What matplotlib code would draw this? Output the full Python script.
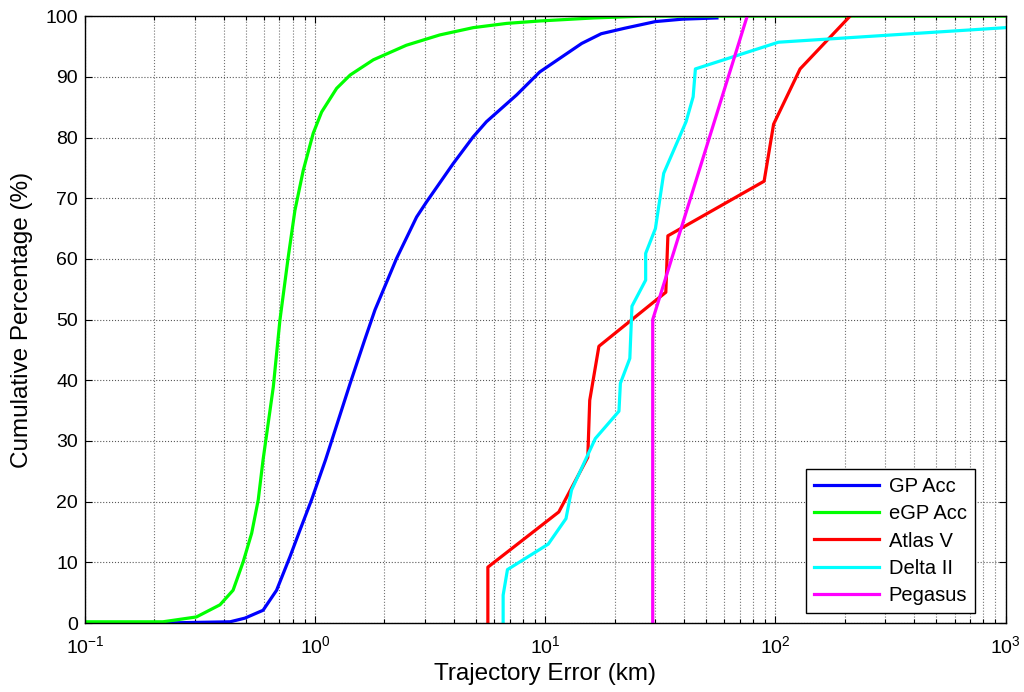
import numpy as np
import matplotlib
matplotlib.use("Agg")
import matplotlib.pyplot as plt
from matplotlib.ticker import LogLocator, NullFormatter

plt.rcParams['font.family'] = ['Liberation Sans', 'DejaVu Sans']
plt.rcParams['mathtext.fontset'] = 'custom'
plt.rcParams['mathtext.rm'] = 'Liberation Sans'
plt.rcParams['mathtext.it'] = 'Liberation Sans:italic'
plt.rcParams['mathtext.bf'] = 'Liberation Sans:bold'

gp_x = [0.1, 0.218, 0.427, 0.495, 0.594, 0.68, 0.777, 0.859, 0.965, 1.11, 1.42, 1.64,
        1.82, 1.98, 2.26, 2.76, 3.05, 3.98, 4.86, 5.55, 7.50, 9.46, 14.4, 17.5, 22.1,
        30.1, 39.4, 55.7]
gp_y = [0.0, 0.0, 0.2, 0.8, 2.1, 5.4, 10.9, 15.3, 20.3, 26.9, 39.5, 46.6,
        51.6, 54.9, 60.1, 66.9, 69.4, 75.7, 80.1, 82.6, 87.0, 90.8, 95.5, 97.1, 98.0,
        99.1, 99.5, 99.7]

# eGP Acc
egp_x = [0.1, 0.218, 0.305, 0.386, 0.44, 0.487, 0.530, 0.566, 0.594, 0.658, 0.703,
         0.764, 0.817, 0.888, 0.981, 1.067, 1.24, 1.42, 1.79, 2.49, 3.48, 4.86, 6.79,
         9.46, 16.2, 26.8, 1000]
egp_y = [0.2, 0.2, 1.0, 3.0, 5.4, 10.1, 14.8, 20.3, 26.9, 38.9, 49.9,
         60.3, 68.0, 74.6, 80.7, 84.2, 88.1, 90.3, 92.8, 95.2, 96.9, 98.1, 98.8,
         99.2, 99.7, 100.0, 100.0]

# Atlas V
atlas_x = [5.63, 5.63, 11.45, 15.3, 15.6, 17.1, 33.4, 34.1, 89.3, 98.2, 128, 211]
atlas_y = [0.0, 9.2, 18.3, 27.3, 36.7, 45.6, 54.5, 63.8, 72.8, 82.2, 91.3, 100.0]

# Delta II
delta_x = [6.56, 6.56, 6.85, 10.3, 12.3, 13.0, 16.5, 20.9, 21.2, 23.3, 23.8, 27.3,
           27.3, 30.1, 32.7, 40.9, 43.9, 44.9, 103, 1000]
delta_y = [0.0, 4.6, 8.8, 13.0, 17.2, 21.9, 30.4, 34.9, 39.5, 43.6, 52.2, 56.5,
           60.9, 65.0, 74.1, 82.6, 86.7, 91.3, 95.7, 98.1]

# Pegasus
peg_x = [29.3, 29.3, 75.4]
peg_y = [0.0, 50.0, 100.0]

fig = plt.figure(figsize=(10.24, 6.92), dpi=100)
ax = fig.add_axes([0.083, 0.0997, 0.899, 0.877])

lw = 2.3
ax.plot(gp_x, gp_y, color='#0000ff', lw=lw, label='GP Acc')
ax.plot(egp_x, egp_y, color='#00ff00', lw=lw, label='eGP Acc')
ax.plot(atlas_x, atlas_y, color='#ff0000', lw=lw, label='Atlas V')
ax.plot(delta_x, delta_y, color='#00ffff', lw=lw, label='Delta II')
ax.plot(peg_x, peg_y, color='#ff00ff', lw=lw, label='Pegasus')

ax.set_xscale('log')
ax.set_xlim(0.1, 1000)
ax.set_ylim(0, 100)
ax.set_yticks(np.arange(0, 101, 10))
ax.xaxis.set_minor_locator(LogLocator(base=10, subs=np.arange(2, 10)))
ax.xaxis.set_minor_formatter(NullFormatter())

ax.grid(True, which='major', color='0.35', linestyle=':', linewidth=0.8)
ax.grid(True, which='minor', axis='x', color='0.45', linestyle=':', linewidth=0.8)

ax.tick_params(which='both', direction='in', top=True, right=True, labelsize=14,
               width=0.8)
ax.tick_params(which='major', length=5)
ax.tick_params(which='minor', length=3)
ax.tick_params(axis='x', which='major', pad=9)
ax.tick_params(axis='y', which='major', pad=5)
for s in ax.spines.values():
    s.set_linewidth(1.0)

ax.set_xlabel('Trajectory Error (km)', fontsize=17.5, labelpad=4)
ax.set_ylabel('Cumulative Percentage (%)', fontsize=17.5, labelpad=9)

leg = ax.legend(loc='lower right', bbox_to_anchor=(0.967, 0.017), fontsize=14.5,
                fancybox=False, edgecolor='black', framealpha=1, handlelength=3.2,
                borderaxespad=0, labelspacing=0.4, handletextpad=0.5)
leg.get_frame().set_linewidth(1.0)

fig.savefig('out.png', dpi=100)
